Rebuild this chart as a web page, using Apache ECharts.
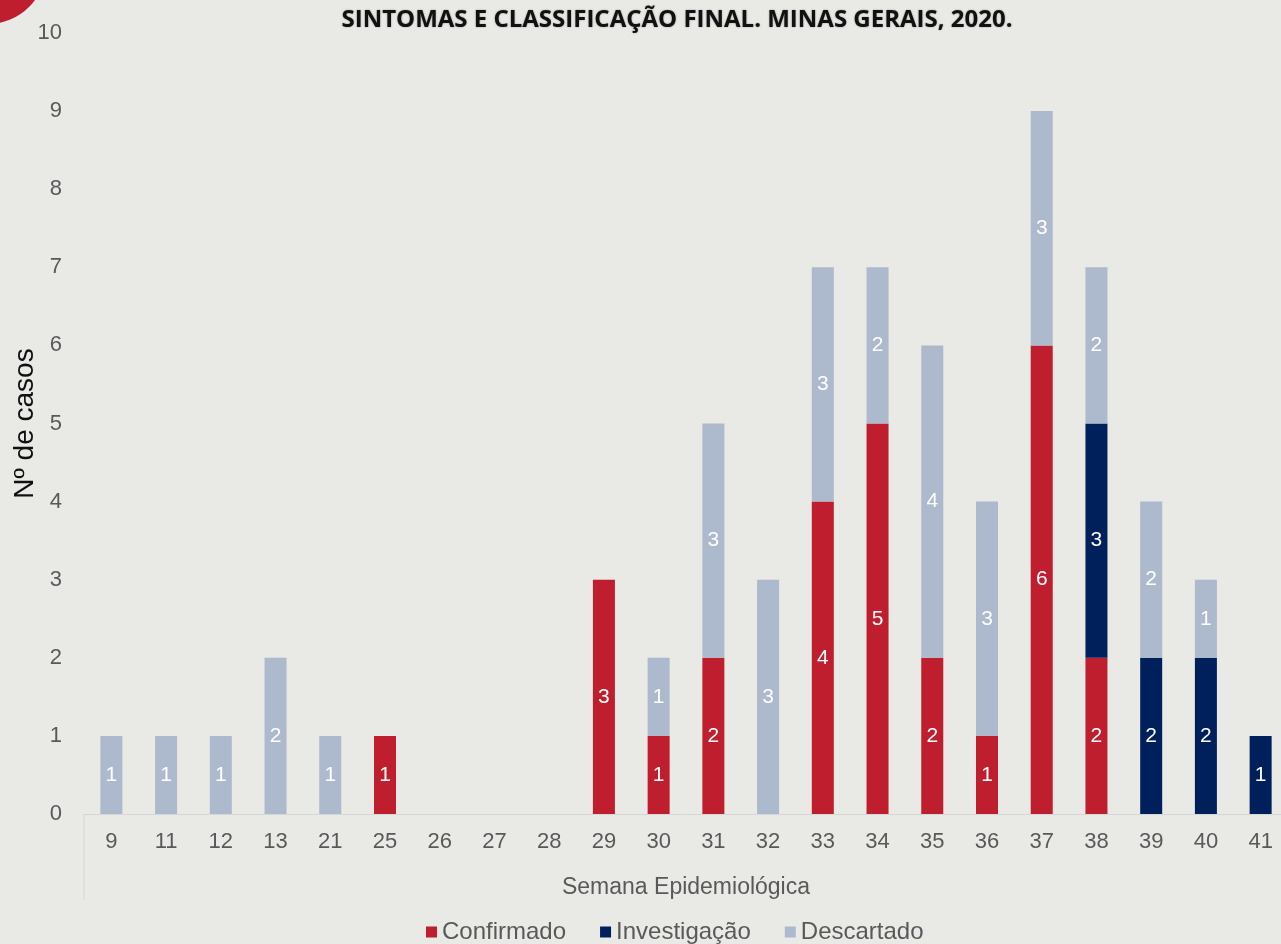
<!DOCTYPE html>
<html>
<head>
<meta charset="utf-8">
<script src="https://cdn.jsdelivr.net/npm/echarts@6/dist/echarts.min.js"></script>
<style>
  html,body{margin:0;padding:0;background:#e9e9e5;}
  #chart{width:1281px;height:944px;}
</style>
</head>
<body>
<div id="chart"></div>
<script>
// semanas epidemiologicas
var semanas = ['9','11','12','13','21','25','26','27','28','29','30','31','32','33','34','35','36','37','38','39','40','41'];
var confirmado   = [0,0,0,0,0,1,0,0,0,3,1,2,0,4,5,2,1,6,2,0,0,0];
var investigacao = [0,0,0,0,0,0,0,0,0,0,0,0,0,0,0,0,0,0,3,2,2,1];
var descartado   = [1,1,1,2,1,0,0,0,0,0,1,3,3,3,2,4,3,3,2,2,1,0];
var yTicks = [0,1,2,3,4,5,6,7,8,9,10];

var chart = echarts.init(document.getElementById('chart'));

function lbl(){
  return {
    show:true,
    position:'inside',
    color:'#ffffff',
    fontFamily:'Liberation Sans',
    fontSize:21,
    formatter:function(p){ return p.value ? p.value : ''; }
  };
}

var option = {
  backgroundColor:'#e9e9e5',
  animation:false,
  title:{
    text:'SINTOMAS E CLASSIFICAÇÃO FINAL. MINAS GERAIS, 2020.',
    left:672, top:3, textAlign:'center',
    textStyle:{fontFamily:'Open Sans', fontWeight:'bold', fontSize:24, color:'#111111',
      textShadowColor:'rgba(0,0,0,0.35)', textShadowBlur:2}
  },
  graphic:[
    {type:'circle', shape:{cx:-12, cy:-34, r:58}, style:{fill:'#be1e2d'}, z:10},
    {type:'line', shape:{x1:84, y1:814, x2:84, y2:900}, style:{stroke:'#d6d6d6', lineWidth:1}}
  ],
  legend:{
    bottom:-5, left:421, itemGap:34, itemWidth:11, itemHeight:11,
    icon:'rect',
    textStyle:{fontFamily:'Liberation Sans', fontSize:24, color:'#595959'},
    data:['Confirmado','Investigação','Descartado']
  },
  grid:{left:84, right:-7, top:33, bottom:130, outerBoundsMode:'none'},
  xAxis:{
    type:'category',
    data:semanas,
    name:'Semana Epidemiológica',
    nameLocation:'middle',
    nameGap:62,
    nameTextStyle:{fontFamily:'Liberation Sans', fontSize:23, color:'#595959'},
    axisLine:{lineStyle:{color:'#d6d6d6'}},
    axisTick:{show:false},
    axisLabel:{fontFamily:'Liberation Sans', fontSize:22, color:'#595959', margin:17}
  },
  yAxis:{
    type:'value',
    min:yTicks[0], max:yTicks[yTicks.length-1], interval:1,
    name:'Nº de casos',
    nameLocation:'middle',
    nameGap:45,
    nameMoveOverlap:false,
    nameTextStyle:{fontFamily:'Liberation Sans', fontSize:28, color:'#111111'},
    axisLine:{show:false},
    axisTick:{show:false},
    splitLine:{show:false},
    axisLabel:{fontFamily:'Liberation Sans', fontSize:22, color:'#595959', margin:22}
  },
  series:[
    {name:'Confirmado', type:'bar', stack:'t', data:confirmado, barWidth:22,
      itemStyle:{color:'#be1e2d'}, label:lbl()},
    {name:'Investigação', type:'bar', stack:'t', data:investigacao, barWidth:22,
      itemStyle:{color:'#00205b'}, label:lbl()},
    {name:'Descartado', type:'bar', stack:'t', data:descartado, barWidth:22,
      itemStyle:{color:'#adb9cc'}, label:lbl()}
  ]
};
chart.setOption(option);
</script>
</body>
</html>
